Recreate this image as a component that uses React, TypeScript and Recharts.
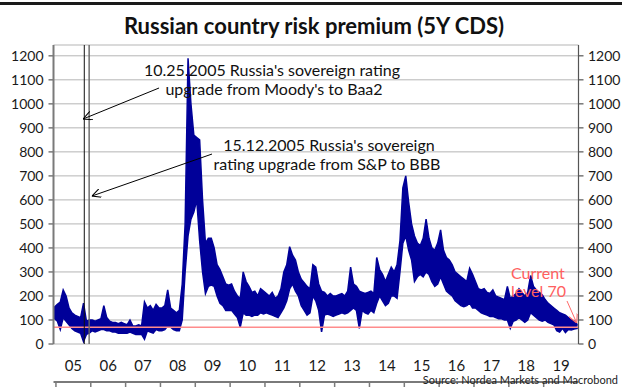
import React from 'react';
import { ComposedChart, Area, XAxis, YAxis, CartesianGrid, ReferenceLine } from 'recharts';

// ---- data (5Y CDS, bp) : monthly upper / lower envelope ----
const years = [2005, 2006, 2007, 2008, 2009, 2010, 2011, 2012, 2013, 2014, 2015, 2016, 2017, 2018, 2019];
const yearLabels = ['05', '06', '07', '08', '09', '10', '11', '12', '13', '14', '15', '16', '17', '18', '19'];

const highs2005 = [165, 175, 225, 200, 150, 130, 120, 115, 110, 170, 95, 100];
const highs2006 = [100, 95, 100, 105, 160, 110, 95, 90, 90, 85, 90, 85];
const highs2007 = [80, 100, 75, 75, 80, 75, 175, 150, 160, 140, 165, 150];
const highs2008 = [150, 160, 225, 150, 140, 130, 140, 250, 500, 1190, 1000, 870];
const highs2009 = [860, 850, 600, 420, 440, 440, 400, 330, 310, 280, 250, 245];
const highs2010 = [250, 220, 200, 190, 300, 260, 240, 215, 220, 200, 230, 220];
const highs2011 = [210, 200, 215, 190, 200, 230, 300, 330, 405, 370, 350, 300];
const highs2012 = [270, 255, 240, 230, 330, 320, 250, 220, 215, 200, 210, 200];
const highs2013 = [200, 205, 210, 200, 220, 320, 250, 240, 220, 215, 210, 215];
const highs2014 = [220, 210, 360, 310, 290, 260, 290, 320, 300, 330, 430, 650];
const highs2015 = [700, 590, 500, 450, 420, 410, 440, 520, 440, 400, 390, 420];
const highs2016 = [475, 390, 360, 350, 330, 300, 290, 280, 270, 260, 315, 290];
const highs2017 = [260, 230, 225, 230, 215, 210, 225, 200, 195, 190, 185, 240];
const highs2018 = [190, 200, 210, 230, 215, 200, 215, 285, 240, 225, 215, 205];
const highs2019 = [185, 170, 160, 150, 140, 130, 125, 120, 110, 100, 95, 82];

const lows2005 = [95, 60, 110, 95, 80, 65, 55, 50, 45, 10, 40, 45];
const lows2006 = [55, 50, 55, 60, 60, 55, 55, 50, 50, 45, 45, 45];
const lows2007 = [45, 50, 45, 40, 40, 40, 20, 55, 50, 45, 60, 55];
const lows2008 = [55, 60, 75, 70, 60, 55, 55, 100, 300, 450, 520, 550];
const lows2009 = [600, 430, 300, 210, 240, 245, 240, 200, 170, 160, 140, 140];
const lows2010 = [140, 125, 110, 70, 130, 120, 120, 115, 120, 120, 130, 125];
const lows2011 = [130, 125, 120, 115, 110, 130, 150, 180, 230, 250, 220, 200];
const lows2012 = [160, 140, 120, 130, 200, 180, 140, 50, 120, 125, 120, 115];
const lows2013 = [120, 125, 130, 125, 130, 140, 150, 140, 65, 140, 130, 125];
const lows2014 = [140, 130, 170, 200, 180, 160, 170, 200, 200, 190, 300, 420];
const lows2015 = [450, 390, 350, 260, 280, 290, 280, 300, 290, 260, 240, 250];
const lows2016 = [280, 250, 220, 210, 200, 180, 170, 160, 155, 160, 170, 150];
const lows2017 = [150, 140, 130, 125, 120, 115, 115, 110, 105, 105, 100, 100];
const lows2018 = [65, 95, 100, 110, 100, 90, 100, 130, 120, 110, 100, 95];
const lows2019 = [100, 90, 85, 80, 55, 50, 65, 48, 60, 58, 62, 65];

const highs = [highs2005, highs2006, highs2007, highs2008, highs2009, highs2010, highs2011, highs2012, highs2013, highs2014, highs2015, highs2016, highs2017, highs2018, highs2019];
const lows = [lows2005, lows2006, lows2007, lows2008, lows2009, lows2010, lows2011, lows2012, lows2013, lows2014, lows2015, lows2016, lows2017, lows2018, lows2019];

const firstPoint = { t: 2004.93, lo: 110, hi: 150 };
const lastPoint = { t: 2019.95, lo: 68, hi: 72 };
const currentLevel = 70;

const yTicks = [0, 100, 200, 300, 400, 500, 600, 700, 800, 900, 1000, 1100, 1200];
const moodysDate = 2005.814; // 25 Oct 2005
const spDate = 2005.953; // 15 Dec 2005

// build table for the library
const data: { t: number; lo: number; hi: number }[] = [firstPoint];
years.forEach((y, i) => {
  for (let m = 0; m < 12; m++) {
    data.push({ t: y + (m + 0.5) / 12, lo: lows[i][m], hi: highs[i][m] });
  }
});
data.push(lastPoint);

const yearStarts = years.map((y) => y);
const yearMids = years.map((y) => y + 0.5);
const labelFor = (v: number) => {
  const idx = years.indexOf(Math.floor(v));
  return idx >= 0 ? yearLabels[idx] : '';
};

const FONT = 'Lato, "Open Sans", sans-serif';
const AXIS = '#7a7a7a';

const arrowShape = (id: string, color: string) => (p: any) => (
  <line x1={p.x1} y1={p.y1} x2={p.x2} y2={p.y2} stroke={color} strokeWidth={1} markerEnd={`url(#${id})`} />
);

export default function App() {
  return (
    <div style={{ position: 'absolute', left: 0, top: 0, width: 622, height: 387, background: '#fff', fontFamily: FONT, overflow: 'hidden' }}>
      <svg width={0} height={0} style={{ position: 'absolute' }}>
        <defs>
          <marker id="arrBlack" viewBox="0 0 10 10" refX="10" refY="5" markerWidth="9" markerHeight="9" markerUnits="userSpaceOnUse" orient="auto">
            <path d="M0,0 L10,5 L0,10" fill="none" stroke="#000" strokeWidth="1.2" />
          </marker>
          <marker id="arrRed" viewBox="0 0 10 10" refX="10" refY="5" markerWidth="9" markerHeight="9" markerUnits="userSpaceOnUse" orient="auto">
            <path d="M0,0 L10,5 L0,10" fill="none" stroke="#ff6a6a" strokeWidth="1.2" />
          </marker>
        </defs>
      </svg>
      <ComposedChart width={622} height={387} data={data} margin={{ top: 45, right: 0, left: 0, bottom: 0 }}>
        <CartesianGrid yAxisId="left" xAxisId="years" vertical={false} stroke="#b5b5b5" strokeWidth={1} />
        <XAxis
          xAxisId="years"
          dataKey="t"
          type="number"
          domain={[2004.93, 2020]}
          ticks={yearStarts}
          interval={0}
          tickFormatter={() => ''}
          tickSize={5}
          height={5}
          axisLine={{ stroke: AXIS, strokeWidth: 2 }}
          tickLine={{ stroke: AXIS, strokeWidth: 1.5 }}
          allowDataOverflow
        />
        <XAxis
          xAxisId="labels"
          dataKey="t"
          type="number"
          domain={[2004.93, 2020]}
          ticks={yearMids}
          interval={0}
          tickFormatter={labelFor}
          axisLine={false}
          tickLine={false}
          tickSize={0}
          tickMargin={16}
          height={38}
          tick={{ fontSize: 15, fill: '#1a1a1a', fontFamily: FONT }}
          allowDataOverflow
        />
        <YAxis
          yAxisId="left"
          domain={[0, 1245]}
          ticks={yTicks}
          interval={0}
          width={53.5}
          tickSize={5}
          tickMargin={5}
          axisLine={{ stroke: AXIS, strokeWidth: 2 }}
          tickLine={{ stroke: AXIS, strokeWidth: 1.5 }}
          tick={{ fontSize: 14, fill: '#1a1a1a', fontFamily: FONT }}
          allowDataOverflow
        />
        <YAxis
          yAxisId="right"
          orientation="right"
          domain={[0, 1245]}
          ticks={yTicks}
          interval={0}
          width={43.5}
          tickSize={5}
          tickMargin={4.5}
          axisLine={{ stroke: '#555', strokeWidth: 1.2 }}
          tickLine={{ stroke: '#555', strokeWidth: 1.2 }}
          tick={{ fontSize: 14, fill: '#1a1a1a', fontFamily: FONT, textAnchor: 'start' }}
          allowDataOverflow
        />
        <ReferenceLine xAxisId="years" yAxisId="left" y={currentLevel} stroke="#ff8c8c" strokeWidth={1.5} />
        <ReferenceLine xAxisId="years" yAxisId="left" x={moodysDate} stroke="#111" strokeWidth={1} />
        <ReferenceLine xAxisId="years" yAxisId="left" x={spDate} stroke="#666" strokeWidth={1.4} />
        <Area
          xAxisId="years"
          yAxisId="left"
          type="linear"
          dataKey={(d: any) => [d.lo, d.hi]}
          stroke="#000099"
          strokeWidth={1.5}
          fill="#000099"
          fillOpacity={1}
          dot={false}
          activeDot={false}
          isAnimationActive={false}
        />
        <ReferenceLine
          xAxisId="years"
          yAxisId="left"
          segment={[{ x: 2007.96, y: 1066 }, { x: 2005.78, y: 937 }]}
          shape={arrowShape('arrBlack', '#000')}
        />
        <ReferenceLine
          xAxisId="years"
          yAxisId="left"
          segment={[{ x: 2009.48, y: 791 }, { x: 2006.03, y: 616 }]}
          shape={arrowShape('arrBlack', '#000')}
        />
        <ReferenceLine
          xAxisId="years"
          yAxisId="left"
          segment={[{ x: 2019.67, y: 179 }, { x: 2019.95, y: 87 }]}
          shape={arrowShape('arrRed', '#ff6a6a')}
        />
      </ComposedChart>
      <svg width={622} height={387} style={{ position: 'absolute', left: 0, top: 0, pointerEvents: 'none' }} fontFamily={FONT}>
        <rect x={0} y={2} width={622} height={3} fill="#1a1a1a" />
        <text x={314} y={34} textAnchor="middle" fontSize={22} fontWeight={700} fill="#111">
          Russian country risk premium (5Y CDS)
        </text>
        <text x={272} y={76} textAnchor="middle" fontSize={16} fill="#111">10.25.2005 Russia's sovereign rating</text>
        <text x={274} y={95} textAnchor="middle" fontSize={16} fill="#111">upgrade from Moody's to Baa2</text>
        <text x={329} y={151} textAnchor="middle" fontSize={16} fill="#111">15.12.2005 Russia's sovereign</text>
        <text x={327} y={170} textAnchor="middle" fontSize={16} fill="#111">rating upgrade from S&amp;P to BBB</text>
        <text x={511} y={279} fontSize={16} fill="#ff6060">Current</text>
        <text x={511} y={297} fontSize={16} fill="#ff6060">level 70</text>
        <text x={618} y={384} textAnchor="end" fontSize={11} fill="#222">Source: Nordea Markets and Macrobond</text>
      </svg>
    </div>
  );
}
